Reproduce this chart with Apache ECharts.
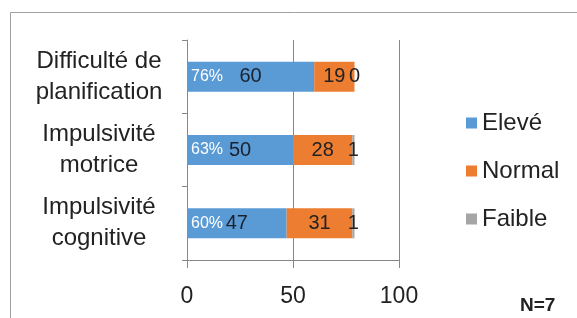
<!DOCTYPE html>
<html>
<head>
<meta charset="utf-8">
<script src="https://cdn.jsdelivr.net/npm/echarts@6/dist/echarts.min.js"></script>
<style>
  html, body { margin: 0; padding: 0; background: #fff; }
  #chart { width: 577px; height: 318px; }
</style>
</head>
<body>
<div id="chart"></div>
<script>
// categories (top to bottom)
const categories = ["Difficulté de\nplanification", "Impulsivité\nmotrice", "Impulsivité\ncognitive"];
const eleve = [60, 50, 47];
const normal = [19, 28, 31];
const faible = [0, 1, 1];
const percents = ["76%", "63%", "60%"];
const xTicks = [0, 50, 100];

const font = "Liberation Sans";
const chart = echarts.init(document.getElementById("chart"));

const option = {
  animation: false,
  textStyle: { fontFamily: font },
  // cadre gris autour du graphique
  graphic: [
    {
      type: "rect",
      shape: { x: 10.5, y: 12.5, width: 620, height: 400 },
      style: { fill: "none", stroke: "#a0a0a0", lineWidth: 1 },
      silent: true,
    },
    {
      type: "text",
      left: 520,
      top: 296,
      style: { text: "N=7", font: "bold 19px " + font, fill: "#222" },
    },
  ],
  grid: { left: 187, top: 40, width: 212, height: 220 },
  legend: {
    orient: "vertical",
    left: 461,
    top: 106,
    itemWidth: 11,
    itemHeight: 11,
    itemGap: 24,
    icon: "rect",
    textStyle: { fontSize: 24, color: "#222", fontFamily: font },
    data: ["Elevé", "Normal", "Faible"],
  },
  xAxis: {
    type: "value",
    min: xTicks[0],
    max: xTicks[xTicks.length - 1],
    interval: 50,
    axisLine: { show: true, lineStyle: { color: "#888" } },
    axisTick: { show: true, length: 8, lineStyle: { color: "#888" } },
    splitLine: { lineStyle: { color: "#888" } },
    axisLabel: { fontSize: 23, color: "#222", margin: 25 },
  },
  yAxis: {
    type: "category",
    inverse: true,
    data: categories,
    axisLine: { show: true, lineStyle: { color: "#888" } },
    axisTick: { show: true, length: 5, lineStyle: { color: "#888" } },
    axisLabel: {
      fontSize: 24,
      color: "#222",
      align: "center",
      margin: 88,
      lineHeight: 31,
      padding: [6, 0, 0, 0],
    },
  },
  series: [
    {
      name: "Elevé",
      type: "bar",
      stack: "total",
      barWidth: 30,
      itemStyle: { color: "#5B9BD5" },
      label: { show: true, position: "inside", fontSize: 20, color: "#1a2230" },
      data: eleve,
    },
    {
      name: "Normal",
      type: "bar",
      stack: "total",
      itemStyle: { color: "#ED7D31" },
      label: { show: true, position: "inside", fontSize: 20, color: "#222" },
      data: normal,
    },
    {
      name: "Faible",
      type: "bar",
      stack: "total",
      itemStyle: { color: "#A5A5A5" },
      label: { show: true, position: "inside", fontSize: 20, color: "#222" },
      data: faible,
    },
    // pourcentages en blanc au début de la barre "Elevé"
    {
      name: "pct",
      type: "bar",
      barWidth: 30,
      barGap: "-100%",
      itemStyle: { color: "transparent" },
      label: {
        show: true,
        position: "insideLeft",
        distance: 4,
        fontSize: 16,
        color: "#fff",
        formatter: (p) => percents[p.dataIndex],
      },
      data: eleve,
      z: 3,
    },
  ],
};
chart.setOption(option);
</script>
</body>
</html>
